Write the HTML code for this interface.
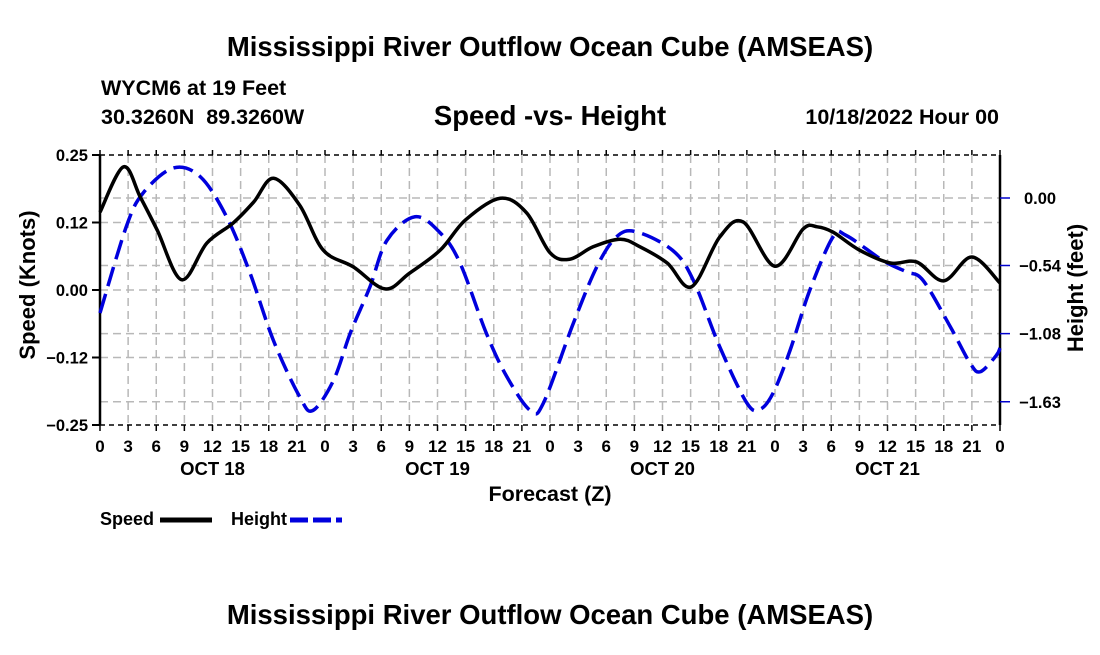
<!DOCTYPE html>
<html><head><meta charset="utf-8"><style>
body{margin:0;background:#fff;width:1100px;height:650px;overflow:hidden}
svg text{font-family:"Liberation Sans",Arial,sans-serif;font-weight:bold;fill:#000}
</style></head><body>
<svg id="chart" width="1100" height="650" viewBox="0 0 1100 650" xmlns="http://www.w3.org/2000/svg">
<text x="550" y="56" font-size="27.5" text-anchor="middle">Mississippi River Outflow Ocean Cube (AMSEAS)</text>
<text x="101" y="95" font-size="21.5">WYCM6 at 19 Feet</text>
<text x="101" y="124" font-size="21.5" xml:space="preserve">30.3260N  89.3260W</text>
<text x="550" y="125" font-size="27.5" text-anchor="middle">Speed -vs- Height</text>
<text x="999" y="124" font-size="21.5" text-anchor="end">10/18/2022 Hour 00</text>
<text x="550" y="624" font-size="27.5" text-anchor="middle">Mississippi River Outflow Ocean Cube (AMSEAS)</text>
<g id="grid"></g><g id="axes"></g><g id="series"></g>
<text transform="translate(35,285) rotate(-90)" font-size="22" text-anchor="middle">Speed (Knots)</text>
<text transform="translate(1083,288) rotate(-90)" font-size="22" text-anchor="middle">Height (feet)</text>
<text x="550" y="501" font-size="21.5" text-anchor="middle">Forecast (Z)</text>
<g>
<text x="100" y="525" font-size="18">Speed</text>
<line x1="160" y1="520" x2="212" y2="520" stroke="#000" stroke-width="5"/>
<text x="231" y="525" font-size="18">Height</text>
<line x1="290" y1="520" x2="342" y2="520" stroke="#0000dd" stroke-width="5" stroke-dasharray="18,5"/>
</g>
</svg>
<script>
const speedHours=[0,2.5,4.3,6.1,8.7,11.4,14.2,16.4,18.5,21.3,23.8,27,30.4,33,36.3,39,42.7,45.5,48,50.1,52.6,55.5,57.6,60.5,63.1,66.1,68.6,72,75,76.5,78.2,81,84.3,87.1,90,93,96];
const speedValues=[.144,.228,.172,.111,.019,.087,.124,.163,.207,.157,.074,.043,.002,.031,.074,.130,.170,.143,.069,.057,.080,.094,.080,.050,.006,.098,.126,.044,.113,.117,.107,.074,.050,.052,.017,.061,.013];
const heightHours=[0,2.8,4.6,7.8,10.7,13.5,16,18.5,21.3,22.7,24.9,26.7,28.8,30.6,33.6,36.3,38.4,41.2,43.4,45.9,47.3,50.5,53,55.1,57.2,61.1,63.3,66.1,69,70.4,71.8,73.6,75.7,78.2,79.6,83.5,86,87.8,90.7,92.8,93.9,95.6,96];
const heightValues=[-.92,-.23,.04,.24,.17,-.15,-.60,-1.14,-1.59,-1.70,-1.46,-1.08,-.71,-.34,-.15,-.28,-.52,-1.08,-1.43,-1.70,-1.64,-1.00,-.55,-.31,-.27,-.42,-.66,-1.19,-1.64,-1.69,-1.56,-1.22,-.74,-.31,-.30,-.50,-.59,-.66,-1.03,-1.32,-1.39,-1.26,-1.20];
const speedTicks=[0.25,0.125,0,-0.125,-0.25];
const speedTickLabels=["0.25","0.12","0.00","\u22120.12","\u22120.25"];
const heightTicks=[0,-0.54,-1.085,-1.63];
const heightTickLabels=["0.00","\u22120.54","\u22121.08","\u22121.63"];
const hourLabels=["0","3","6","9","12","15","18","21"];
const dayLabels=["OCT 18","OCT 19","OCT 20","OCT 21"];

const L=100,R=1000,T=155,B=425;
const xS=h=>L+(R-L)*h/96;
const yS=v=>290-v*540;
const yH=v=>198-v*125;
const NS="http://www.w3.org/2000/svg";
function mk(tag,attrs,parent,text){const e=document.createElementNS(NS,tag);for(const k in attrs)e.setAttribute(k,attrs[k]);if(text!==undefined)e.textContent=text;parent.appendChild(e);return e;}
const grid=document.getElementById('grid'),axes=document.getElementById('axes'),series=document.getElementById('series');
const gs={stroke:"#b8b8b8","stroke-width":1.5,"stroke-dasharray":"8,5"};
for(let h=3;h<96;h+=3){const l=mk('line',Object.assign({x1:xS(h),x2:xS(h),y1:T,y2:B},gs),grid);

}
speedTicks.forEach(v=>{if(v===0.25||v===-0.25)return;const l=mk('line',Object.assign({x1:L,x2:R,y1:yS(v),y2:yS(v)},gs),grid);

});
heightTicks.forEach(v=>{const l=mk('line',Object.assign({x1:L,x2:R,y1:yH(v),y2:yH(v)},gs),grid);

});
mk('line',{x1:L,x2:L,y1:T,y2:B,stroke:"#000","stroke-width":2.5},axes);
mk('line',{x1:R,x2:R,y1:T,y2:B,stroke:"#000","stroke-width":2.5},axes);
mk('line',{x1:L,x2:R,y1:T,y2:T,stroke:"#000","stroke-width":1.5,"stroke-dasharray":"5,4"},axes);
mk('line',{x1:L,x2:R,y1:B,y2:B,stroke:"#000","stroke-width":1.5,"stroke-dasharray":"5,4"},axes);
speedTicks.forEach((v,i)=>{mk('line',{x1:L-8,x2:L,y1:yS(v),y2:yS(v),stroke:"#000","stroke-width":2},axes);
const t=mk('text',{x:L-12,y:yS(v)+6,"font-size":16.5,"text-anchor":"end"},axes,speedTickLabels[i]);

});
heightTicks.forEach((v,i)=>{mk('line',{x1:R,x2:R+10,y1:yH(v),y2:yH(v),stroke:"#0000cc","stroke-width":1.5},axes);
const t=mk('text',{x:R+40,y:yH(v)+6,"font-size":16.5,"text-anchor":"middle"},axes,heightTickLabels[i]);

});
for(let h=0;h<=96;h+=3){mk('line',{x1:xS(h),x2:xS(h),y1:B,y2:B+6,stroke:"#000","stroke-width":1.5},axes);
mk('line',{x1:xS(h),x2:xS(h),y1:T-5,y2:T,stroke:"#000","stroke-width":1.5},axes);
const t=mk('text',{x:xS(h),y:452,"font-size":17,"text-anchor":"middle"},axes,hourLabels[(h/3)%8]);

}
dayLabels.forEach((d,i)=>{const t=mk('text',{x:xS(i*24+12),y:475,"font-size":18.5,"text-anchor":"middle"},axes,d);

});
function path(hs,vs,ys){const p=hs.map((h,i)=>[xS(h),ys(vs[i])]);let d=`M${p[0][0]},${p[0][1]}`;
for(let i=0;i<p.length-1;i++){const p0=p[Math.max(0,i-1)],p1=p[i],p2=p[i+1],p3=p[Math.min(p.length-1,i+2)];
const c1=[p1[0]+(p2[0]-p0[0])/6,p1[1]+(p2[1]-p0[1])/6],c2=[p2[0]-(p3[0]-p1[0])/6,p2[1]-(p3[1]-p1[1])/6];
d+=` C${c1[0]},${c1[1]} ${c2[0]},${c2[1]} ${p2[0]},${p2[1]}`;}return d;}
const hl=mk('path',{d:path(heightHours,heightValues,yH),fill:"none",stroke:"#0000dd","stroke-width":3.5,"stroke-dasharray":"20,8"},series);


const sl=mk('path',{d:path(speedHours,speedValues,yS),fill:"none",stroke:"#000","stroke-width":3.5},series);


</script>
</body></html>
